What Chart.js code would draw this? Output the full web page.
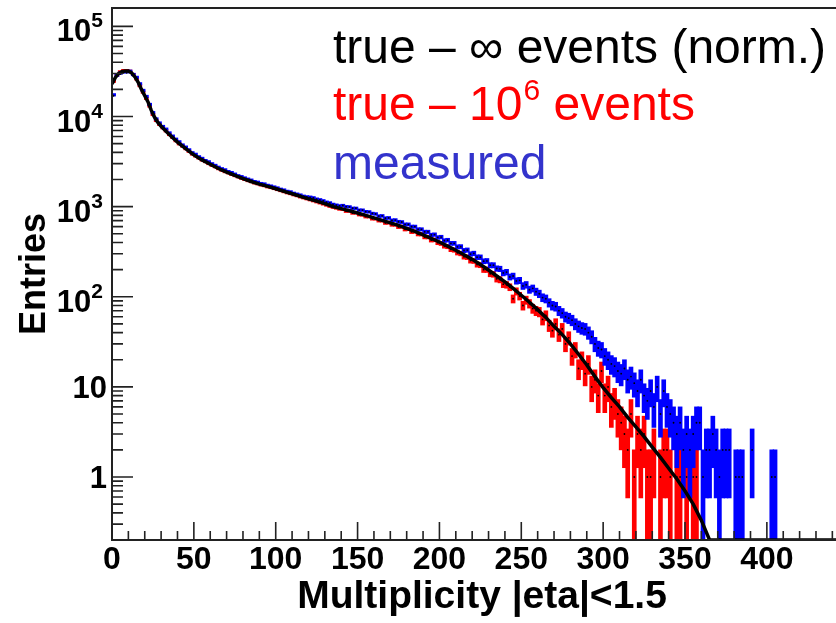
<!DOCTYPE html>
<html>
<head>
<meta charset="utf-8">
<script src="https://cdn.jsdelivr.net/npm/chart.js@4.4.1/dist/chart.umd.min.js"></script>
<style>
  html, body { margin: 0; background: #fff; }
  /* the frame runs on past the right edge of the picture */
  #wrap { width: 836px; height: 623px; overflow: hidden; }
</style>
</head>
<body>
<div id="wrap"><canvas id="chart" width="856" height="623"></canvas></div>
<script>
// axis ticks
const xTickVals = [0, 50, 100, 150, 200, 250, 300, 350, 400];
const yTickVals = [1, 10, 100, 1000, 10000, 100000];
const yTickBase = ['1', '10', '10', '10', '10', '10'];
const yTickExp = ['', '', '2', '3', '4', '5'];

// black curve: true distribution, infinite events (normalised), read at these multiplicities
const trueInfMult = [0, 2, 4, 6, 8, 10, 12, 14, 16, 18, 20, 22, 24, 26, 28, 30,
  35, 40, 45, 50, 55, 60, 65, 70, 75, 80, 85, 90, 95, 100, 105, 110, 115, 120,
  125, 130, 135, 140, 145, 150, 155, 160, 165, 170, 175, 180, 185, 190, 195, 200,
  205, 210, 215, 220, 225, 230, 235, 240, 245, 250, 255, 260, 265, 270, 275, 280,
  285, 290, 295, 300, 305, 310, 315, 320, 325, 330, 335, 340, 345, 350, 355, 360,
  365, 452];
const trueInf = [23000, 27000, 30000, 31500, 32000, 32000, 30500, 27500, 24000, 20000,
  17000, 14500, 11700, 9800, 8600, 7800,
  6300, 5200, 4400, 3750, 3300, 2950, 2650, 2420, 2220, 2050, 1900, 1780, 1680, 1580,
  1480, 1390, 1300, 1220, 1150, 1080, 1000, 950, 900, 850, 800, 750, 705, 660, 620,
  575, 530, 487, 445, 405, 365, 328, 293, 260, 228, 198, 170, 146, 124, 104, 87, 72,
  59, 47, 38, 30, 23, 17.5, 13, 9.8, 7.6, 6.0, 4.6, 3.6, 2.8, 2.15, 1.65, 1.25, 0.95,
  0.7, 0.5, 0.33, 0.2, 0.2];

// histograms, bins of width 2 starting at 0 (centres 1, 3, 5 ...)
const binWidth = 2;
const true1e6 = [
  24000, 28000, 30500, 31500, 31500, 31000, 28500, 25500, 21500, 18200,
  15500, 12800, 10300, 8850, 8000, 7350, 6800, 6200, 5750, 5300,
  4900, 4620, 4330, 4050, 3780, 3600, 3420, 3250, 3120, 2970,
  2840, 2740, 2610, 2510, 2420, 2350, 2260, 2190, 2120, 2050,
  1990, 1930, 1880, 1820, 1780, 1730, 1700, 1650, 1620, 1580,
  1540, 1500, 1460, 1420, 1390, 1350, 1320, 1280, 1250, 1220,
  1190, 1160, 1130, 1100, 1070, 1040, 1010, 985, 965, 940,
  935, 890, 895, 850, 855, 815, 810, 775, 775, 735,
  735, 700, 700, 660, 665, 630, 630, 595, 600, 560,
  565, 525, 530, 495, 495, 460, 460, 425, 428, 398,
  390, 365, 360, 335, 330, 308, 302, 278, 275, 252,
  250, 228, 225, 200, 200, 180, 178, 158, 155, 138,
  136, 128, 95, 115, 102, 80, 92, 84, 74, 70,
  68, 56, 62, 48, 42, 50, 38, 44, 30, 35,
  22, 26, 16, 20, 14, 18, 10, 12, 8, 15,
  8, 10, 6, 7, 5, 4, 3, 2, 5, 1,
  3, 2, 3, 1, 1, 2, 0, 1, 2, 2,
  1, 0, 1, 1, 0, 1, 0, 1, 1, 0,
  0, 0, 0, 0, 0, 0, 0, 0, 0, 0,
  0, 0, 0, 0, 0, 0, 0, 0, 0, 0,
  0, 0, 0, 0, 0, 0, 0, 0, 0, 0,
  0, 0, 0, 0, 0, 0, 0, 0, 0, 0
];
const measured = [
  17000, 28000, 29500, 30500, 30500, 31000, 28500, 26500, 22500, 19000,
  16300, 13300, 10800, 9200, 8300, 7600, 7100, 6450, 5950, 5500,
  5150, 4750, 4500, 4200, 3900, 3750, 3520, 3380, 3200, 3100,
  2950, 2830, 2700, 2600, 2530, 2420, 2360, 2270, 2180, 2130,
  2060, 2000, 1950, 1880, 1850, 1790, 1770, 1710, 1680, 1640,
  1600, 1550, 1520, 1470, 1450, 1400, 1370, 1340, 1300, 1280,
  1270, 1250, 1210, 1190, 1160, 1120, 1100, 1060, 1040, 1020,
  1030, 1000, 995, 960, 960, 915, 915, 880, 875, 840,
  830, 785, 790, 745, 750, 705, 710, 680, 675, 635,
  635, 600, 600, 560, 560, 525, 525, 485, 490, 455,
  460, 420, 425, 392, 392, 358, 360, 326, 330, 298,
  303, 275, 275, 248, 250, 224, 224, 206, 204, 184,
  188, 166, 170, 150, 152, 132, 136, 120, 124, 114,
  108, 98, 95, 86, 80, 78, 70, 66, 60, 58,
  55, 50, 47, 45, 44, 40, 36, 30, 27, 26,
  22, 20, 18, 17, 15, 14, 16, 12, 13, 11,
  9, 12, 8, 7, 9, 6, 10, 5, 9, 6,
  5, 4, 3, 4, 2, 3, 2, 3, 4, 4,
  1, 2, 2, 3, 2, 1, 2, 2, 2, 0,
  1, 1, 1, 0, 0, 2, 0, 0, 0, 0,
  0, 1, 1, 0, 0, 0, 0, 0, 0, 0,
  0, 0, 0, 0, 0, 0, 0, 0, 0, 0
];

const binCentre = (i) => binWidth * i + binWidth / 2;

// sqrt(N) error bars, the way the histogram is drawn
const errorBars = (counts) => counts
  .map((n, i) => ({ x: binCentre(i), n }))
  .filter((b) => b.n > 0)
  .map((b) => ({ x: b.x, y: [Math.max(b.n - Math.sqrt(b.n), 0.05), b.n + Math.sqrt(b.n)] }));

const markers = (counts) => counts
  .map((n, i) => ({ x: binCentre(i), y: n }))
  .filter((p) => p.y > 0);

const family = '"Liberation Sans", Arial, sans-serif';
const boldFont = (size) => ({ family: family, size: size, weight: 'bold' });

const frameAndText = {
  id: 'frameAndText',
  afterDraw(chart) {
    const { ctx, chartArea: a, scales: { x, y } } = chart;
    ctx.save();
    ctx.strokeStyle = '#222';
    ctx.lineWidth = 2;
    ctx.beginPath();
    ctx.moveTo(a.right, a.top);
    ctx.lineTo(a.left, a.top);
    ctx.lineTo(a.left, a.bottom);
    ctx.lineTo(a.right, a.bottom);
    ctx.stroke();

    // ticks point into the frame
    ctx.lineWidth = 1.6;
    ctx.beginPath();
    for (let v = 0; v <= x.max; v += 10) {
      const px = x.getPixelForValue(v);
      const len = v % 50 === 0 ? 18 : 9;
      ctx.moveTo(px, a.bottom);
      ctx.lineTo(px, a.bottom - len);
    }
    for (let e = -1; e <= 5; e++) {
      for (let k = 1; k <= 9; k++) {
        const v = k * Math.pow(10, e);
        if (v < y.min || v > y.max) continue;
        const py = y.getPixelForValue(v);
        ctx.moveTo(a.left, py);
        ctx.lineTo(a.left + (k === 1 ? 21 : 11), py);
      }
    }
    ctx.stroke();

    // y tick labels with raised exponents
    ctx.fillStyle = '#000';
    ctx.textBaseline = 'alphabetic';
    ctx.textAlign = 'right';
    const right = a.left - 9;
    yTickVals.forEach((v, i) => {
      const py = y.getPixelForValue(v);
      if (yTickExp[i]) {
        ctx.font = 'bold 21px ' + family;
        const ew = ctx.measureText(yTickExp[i]).width;
        ctx.fillText(yTickExp[i], right, py + 1);
        ctx.font = 'bold 31px ' + family;
        ctx.fillText(yTickBase[i], right - ew, py + 15);
      } else {
        ctx.font = 'bold 31px ' + family;
        ctx.fillText(yTickBase[i], right + 4, py + 11);
      }
    });

    // legend text
    ctx.textAlign = 'left';
    ctx.font = '48px ' + family;
    ctx.fillStyle = '#000';
    ctx.fillText('true – ∞ events (norm.)', 333, 63);

    ctx.fillStyle = '#ff0000';
    let tx = 333;
    ctx.fillText('true – 10', tx, 120);
    tx += ctx.measureText('true – 10').width;
    ctx.font = '30px ' + family;
    ctx.fillText('6', tx + 1, 100);
    tx += ctx.measureText('6').width + 1;
    ctx.font = '48px ' + family;
    ctx.fillText(' events', tx, 120);

    ctx.fillStyle = '#3333cc';
    ctx.fillText('measured', 333, 179);
    ctx.restore();
  }
};

new Chart(document.getElementById('chart'), {
  type: 'bar',
  data: {
    datasets: [
      {
        type: 'line',
        label: 'true – ∞ events (norm.)',
        data: trueInfMult.map((m, i) => ({ x: m, y: trueInf[i] })),
        borderColor: '#000',
        borderWidth: 3.5,
        pointRadius: 0,
        tension: 0,
        order: 0
      },
      {
        type: 'line',
        label: 'measured markers',
        data: markers(measured),
        showLine: false,
        pointRadius: 0.9,
        pointBorderWidth: 0,
        pointBackgroundColor: '#000',
        order: 1
      },
      {
        label: 'measured',
        data: errorBars(measured),
        backgroundColor: '#0000ff',
        barThickness: 4,
        minBarLength: 2.5,
        grouped: false,
        order: 2
      },
      {
        type: 'line',
        label: 'true markers',
        data: markers(true1e6),
        showLine: false,
        pointRadius: 0.9,
        pointBorderWidth: 0,
        pointBackgroundColor: '#000',
        order: 3
      },
      {
        label: 'true – 10⁶ events',
        data: errorBars(true1e6),
        backgroundColor: '#ff0000',
        barThickness: 4,
        minBarLength: 2.5,
        grouped: false,
        order: 4
      }
    ]
  },
  options: {
    responsive: false,
    animation: false,
    devicePixelRatio: 1,
    layout: { padding: { top: 8, left: 0, right: 0, bottom: 0 } },
    plugins: { legend: { display: false }, tooltip: { enabled: false } },
    scales: {
      x: {
        type: 'linear',
        min: 0,
        max: 452,
        offset: false,
        grid: { display: false, drawTicks: false },
        border: { display: false },
        afterBuildTicks: (s) => { s.ticks = xTickVals.map((v) => ({ value: v })); },
        afterFit: (s) => { s.height = 83; s.paddingLeft = 0; s.paddingRight = 0; },
        ticks: { font: boldFont(32), color: '#000', padding: 1, maxRotation: 0, autoSkip: false },
        title: {
          display: true,
          text: 'Multiplicity |eta|<1.5',
          font: boldFont(39),
          color: '#000',
          padding: { top: 0, bottom: 2 }
        }
      },
      y: {
        type: 'logarithmic',
        min: 0.2,
        max: 160000,
        grid: { display: false, drawTicks: false },
        border: { display: false },
        afterBuildTicks: (s) => { s.ticks = yTickVals.map((v) => ({ value: v })); },
        afterFit: (s) => { s.width = 112; s.paddingTop = 0; s.paddingBottom = 0; },
        ticks: { display: false },
        title: {
          display: true,
          text: 'Entries',
          font: boldFont(36),
          color: '#000',
          padding: { top: 13, bottom: 0 }
        }
      }
    }
  },
  plugins: [frameAndText]
});
</script>
</body>
</html>
